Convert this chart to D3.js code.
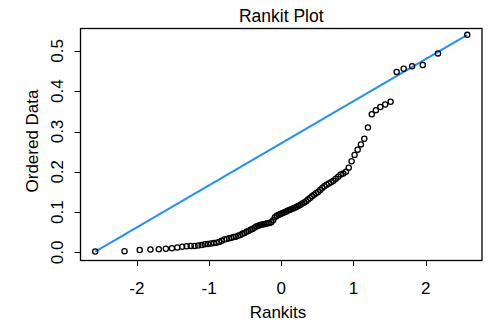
<!DOCTYPE html>
<html>
<head>
<meta charset="utf-8">
<script src="https://cdn.jsdelivr.net/npm/d3@7"></script>
<style>
  body { margin: 0; background: #fff; }
  svg { display: block; font-family: "Liberation Sans", Arial, sans-serif; }
</style>
</head>
<body>
<div id="chart"></div>
<script>
// Ordered sample values (sorted)
const orderedData = [
  0.002, 0.003, 0.006, 0.007, 0.008, 0.009, 0.010, 0.012, 0.014, 0.015,
  0.016, 0.016, 0.017, 0.018, 0.020, 0.021, 0.022, 0.023, 0.024, 0.026,
  0.029, 0.032, 0.033, 0.035, 0.036, 0.038, 0.039, 0.041, 0.043, 0.046,
  0.048, 0.051, 0.053, 0.056, 0.058, 0.061, 0.064, 0.066, 0.068, 0.069,
  0.070, 0.071, 0.072, 0.073, 0.075, 0.080, 0.087, 0.091, 0.093, 0.095,
  0.097, 0.099, 0.101, 0.103, 0.105, 0.107, 0.109, 0.111, 0.113, 0.116,
  0.118, 0.121, 0.124, 0.127, 0.131, 0.135, 0.139, 0.143, 0.147, 0.150,
  0.155, 0.160, 0.164, 0.168, 0.171, 0.174, 0.178, 0.183, 0.188, 0.193,
  0.196, 0.200, 0.210, 0.226, 0.242, 0.255, 0.268, 0.282, 0.310, 0.343,
  0.353, 0.361, 0.367, 0.374, 0.448, 0.456, 0.462, 0.465, 0.494, 0.540
];
const xTicks = [-2, -1, 0, 1, 2];
const yTicks = [0.0, 0.1, 0.2, 0.3, 0.4, 0.5];
const yTickLabels = ["0.0", "0.1", "0.2", "0.3", "0.4", "0.5"];
const titleText = "Rankit Plot";
const xTitle = "Rankits";
const yTitle = "Ordered Data";

// inverse standard normal CDF (Acklam)
function qnorm(p) {
  const a = [-39.69683028665376, 220.9460984245205, -275.9285104469687, 138.3577518672690, -30.66479806614716, 2.506628277459239];
  const b = [-54.47609879822406, 161.5858368580409, -155.6989798598866, 66.80131188771972, -13.28068155288572];
  const c = [-0.007784894002430293, -0.3223964580411365, -2.400758277161838, -2.549732539343734, 4.374664141464968, 2.938163982698783];
  const d = [0.007784695709041462, 0.3224671290700398, 2.445134137142996, 3.754408661907416];
  const pl = 0.02425;
  let q, r;
  if (p < pl) {
    q = Math.sqrt(-2 * Math.log(p));
    return (((((c[0]*q+c[1])*q+c[2])*q+c[3])*q+c[4])*q+c[5]) / ((((d[0]*q+d[1])*q+d[2])*q+d[3])*q+1);
  } else if (p <= 1 - pl) {
    q = p - 0.5; r = q * q;
    return (((((a[0]*r+a[1])*r+a[2])*r+a[3])*r+a[4])*r+a[5])*q / (((((b[0]*r+b[1])*r+b[2])*r+b[3])*r+b[4])*r+1);
  } else {
    q = Math.sqrt(-2 * Math.log(1 - p));
    return -(((((c[0]*q+c[1])*q+c[2])*q+c[3])*q+c[4])*q+c[5]) / ((((d[0]*q+d[1])*q+d[2])*q+d[3])*q+1);
  }
}

const n = orderedData.length;
const points = orderedData.map((v, i) => ({ z: qnorm((i + 0.5) / n), v: v }));

const width = 491, height = 324;
const box = { left: 80.5, right: 482, top: 28, bottom: 260 };

const svg = d3.select("#chart").append("svg")
  .attr("width", width)
  .attr("height", height);

const x = d3.scaleLinear().domain([-2.78, 2.78]).range([box.left, box.right]);
const y = d3.scaleLinear().domain([-0.019, 0.557]).range([box.bottom, box.top]);

// title
svg.append("text")
  .attr("x", (box.left + box.right) / 2)
  .attr("y", 22)
  .attr("text-anchor", "middle")
  .style("font-size", "17.5px")
  .text(titleText);

// x axis ticks
const xAx = svg.append("g");
xAx.selectAll("line").data(xTicks).enter().append("line")
  .attr("x1", d => Math.round(x(d)) + 0.5).attr("x2", d => Math.round(x(d)) + 0.5)
  .attr("y1", box.bottom).attr("y2", box.bottom + 6)
  .attr("stroke", "#000");
xAx.selectAll("text").data(xTicks).enter().append("text")
  .attr("x", d => x(d))
  .attr("y", 293.5)
  .attr("text-anchor", "middle")
  .style("font-size", "17px")
  .text(d => d);

// y axis ticks
const yAx = svg.append("g");
yAx.selectAll("line").data(yTicks).enter().append("line")
  .attr("y1", d => Math.round(y(d)) + 0.5).attr("y2", d => Math.round(y(d)) + 0.5)
  .attr("x1", box.left).attr("x2", box.left - 6)
  .attr("stroke", "#000");
yAx.selectAll("text").data(yTicks).enter().append("text")
  .attr("transform", d => `translate(62.5,${y(d)}) rotate(-90)`)
  .attr("text-anchor", "middle")
  .style("font-size", "17px")
  .text((d, i) => yTickLabels[i]);

// axis titles
svg.append("text")
  .attr("x", 278)
  .attr("y", 318)
  .attr("text-anchor", "middle")
  .style("font-size", "17px")
  .text(xTitle);
svg.append("text")
  .attr("transform", `translate(38,141) rotate(-90)`)
  .attr("text-anchor", "middle")
  .style("font-size", "17px")
  .text(yTitle);

// reference line from first to last ordered point
const first = points[0], last = points[n - 1];
svg.append("line")
  .attr("x1", x(first.z)).attr("y1", y(first.v))
  .attr("x2", x(last.z)).attr("y2", y(last.v))
  .attr("stroke", "#1e90ff")
  .attr("stroke-width", 2);

// points
svg.append("g").selectAll("circle").data(points).enter().append("circle")
  .attr("cx", d => x(d.z))
  .attr("cy", d => y(d.v))
  .attr("r", 2.6)
  .attr("fill", "none")
  .attr("stroke", "#000")
  .attr("stroke-width", 1.3);

// plot box
svg.append("rect")
  .attr("x", box.left).attr("y", box.top + 0.5)
  .attr("width", box.right - box.left)
  .attr("height", box.bottom - box.top)
  .attr("fill", "none")
  .attr("stroke", "#000")
  .attr("stroke-width", 1.3);
</script>
</body>
</html>
